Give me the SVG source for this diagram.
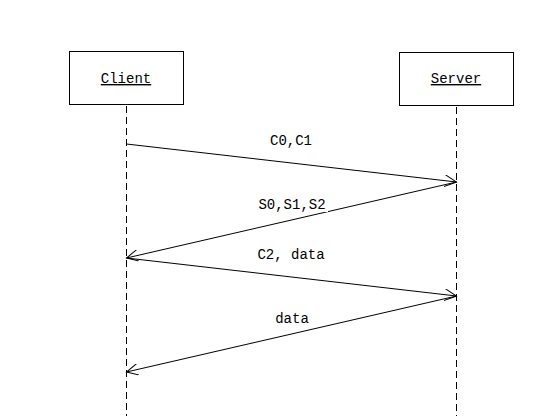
<svg xmlns="http://www.w3.org/2000/svg" width="535" height="416" viewBox="0 0 535 416">
<defs>
<style>
.box{fill:#fff;stroke:#000;stroke-width:1}
.life{stroke:#000;stroke-width:1;stroke-dasharray:7 4;fill:none}
.msg{stroke:#000;stroke-width:1;fill:none;marker-end:url(#arr)}
.t{font-family:"Liberation Mono",monospace;font-size:14px;fill:#000;text-anchor:middle}
.u{text-decoration:underline}
</style>
<marker id="arr" markerWidth="14" markerHeight="12" refX="12" refY="6" orient="auto" markerUnits="userSpaceOnUse">
<path d="M0,0 L12,6 L0,12" fill="none" stroke="#000" stroke-width="1"/>
</marker>
</defs>
<rect width="535" height="416" fill="#fff"/>
<g id="client">
<rect class="box" x="69.5" y="51.5" width="114" height="53"/>
<text class="t u" x="126" y="83">Client</text>
<line class="life" x1="126.5" y1="106" x2="126.5" y2="416"/>
</g>
<g id="server">
<rect class="box" x="399.5" y="52.5" width="114" height="53"/>
<text class="t u" x="456" y="83">Server</text>
<line class="life" x1="456.5" y1="107" x2="456.5" y2="416"/>
</g>
<g id="connectors">
<line class="msg" x1="126.5" y1="144" x2="456.5" y2="182"/>
<line class="msg" x1="456.5" y1="182" x2="126.5" y2="258"/>
<line class="msg" x1="126.5" y1="258" x2="456.5" y2="296"/>
<line class="msg" x1="456.5" y1="296" x2="126.5" y2="372"/>
<text class="t" x="291" y="145">C0,C1</text>
<rect x="256" y="196" width="72" height="16" fill="#fff"/>
<text class="t" x="292" y="209">S0,S1,S2</text>
<text class="t" x="291" y="259">C2, data</text>
<text class="t" x="292" y="323">data</text>
</g>
</svg>
